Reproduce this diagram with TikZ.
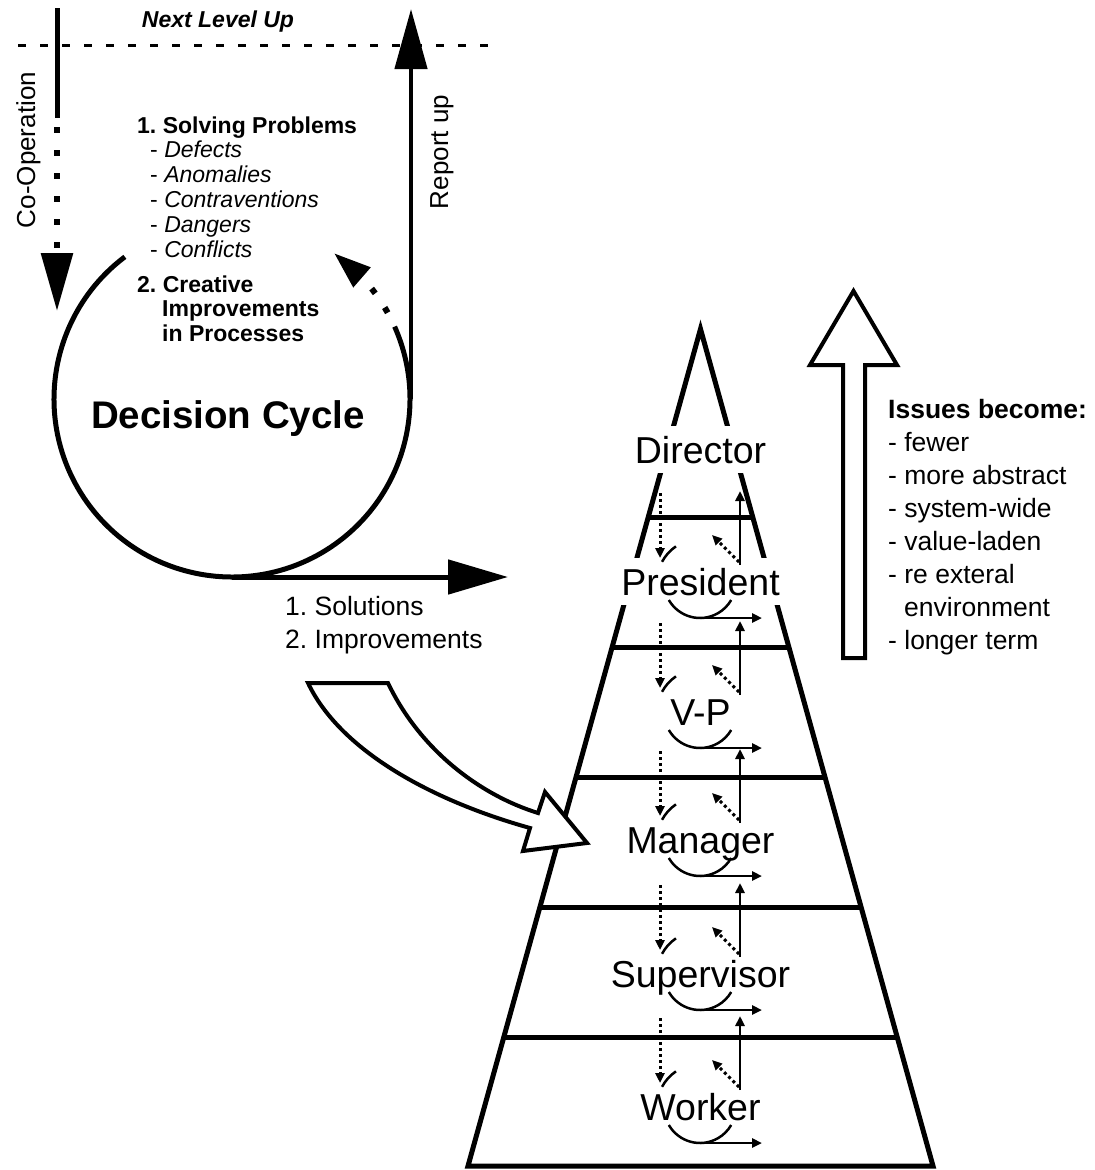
\documentclass[tikz,border=0pt]{standalone}
\usepackage{fontspec}
\setmainfont{Liberation Sans}
\usetikzlibrary{arrows.meta,bending}
\frenchspacing

\tikzset{
  heavy/.style={line width=5pt},
  thinline/.style={line width=2.5pt},
  bigdots/.style={line width=6pt, dash pattern=on 6pt off 17pt},
  smalldots/.style={line width=3pt, dash pattern=on 3pt off 3pt},
  smallhead/.style={-{Triangle[length=10pt,width=9pt]}},
  level/.style={fill=white, inner xsep=2pt, inner ysep=10pt, text height=27pt,
    text depth=0pt, anchor=base, font=\fontsize{37.5}{40}\selectfont},
  listtext/.style={anchor=base west, inner sep=0pt, font=\fontsize{23}{25}\selectfont},
  sidetext/.style={anchor=base west, inner sep=0pt, font=\fontsize{26.5}{33}\selectfont},
  hollow/.style={line width=4pt, fill=white, line join=miter},
}

\begin{document}
\begin{tikzpicture}[x=1pt,y=-1pt]

\useasboundingbox (0,0) rectangle (1095,1170);

% next level up
\coordinate (lvlL) at (18,45);
\coordinate (lvlR) at (497,45);
\draw[line width=3pt, dash pattern=on 8pt off 14pt] (lvlL) -- (lvlR);
\node[inner sep=0pt, font=\bfseries\itshape\fontsize{23}{25}\selectfont] (nextup) at (218,22) {Next Level Up};

% co-operation
\coordinate (coopTop) at (57,8);
\coordinate (coopMid) at (57,118);
\coordinate (coopDots) at (57,127);
\coordinate (coopTip) at (57,311);
\draw[heavy] (coopTop) -- (coopMid);
\draw[bigdots, -{Triangle[length=58pt,width=31pt]}] (coopDots) -- (coopTip);
\node[rotate=90, anchor=base, inner sep=0pt, font=\fontsize{26}{30}\selectfont] (coop) at (35,150) {Co-Operation};

% decision cycle
\coordinate (cyc) at (232,399);
\draw[heavy] (cyc) ++(233:178) arc[start angle=233, end angle=-24, radius=178];
\draw[bigdots, -{Triangle[length=37pt,width=25pt]}] (cyc) ++(-29:178) arc[start angle=-29, end angle=-55, radius=178];
\node[anchor=base, inner sep=0pt, font=\bfseries\fontsize{38.5}{42}\selectfont] (dc) at (228,428) {Decision Cycle};

% report up
\coordinate (repBot) at (411,399);
\coordinate (repTop) at (411,9);
\draw[line width=4.5pt, -{Triangle[length=60pt,width=32pt]}] (repBot) -- (repTop);
\node[rotate=90, anchor=base, inner sep=0pt, font=\fontsize{26}{30}\selectfont] (report) at (448,152) {Report up};

% solutions
\coordinate (solStart) at (232,577);
\coordinate (solEnd) at (508,577);
\draw[heavy, -{Triangle[length=60pt,width=34pt]}] (solStart) -- (solEnd);
\node[sidetext] (sol1) at (285,615) {1. Solutions};
\node[sidetext] (sol2) at (285,648) {2. Improvements};

% problems list
\node[listtext, font=\bfseries\fontsize{23}{25}\selectfont] (prob) at (137,133) {1. Solving Problems};
\foreach \w [count=\i] in {Defects,Anomalies,Contraventions,Dangers,Conflicts}
  \node[listtext] (item\i) at (150,132+25*\i) {- \textit{\w}};
\node[listtext, font=\bfseries\fontsize{23}{25}\selectfont] (creat) at (137,292) {2. Creative};
\node[listtext, font=\bfseries\fontsize{23}{25}\selectfont] (creat2) at (162,316) {Improvements};
\node[listtext, font=\bfseries\fontsize{23}{25}\selectfont] (creat3) at (162,341) {in Processes};

% pyramid
\coordinate (apex) at (700.5,329);
\coordinate (pbl) at (468,1166);
\coordinate (pbr) at (933,1166);
\draw[heavy, line join=miter] (pbl) -- (apex) -- (pbr) -- cycle;
\foreach \y in {517,647,777,907,1037}{
  \pgfmathsetmacro\hw{0.2778*(\y-329)}
  \draw[heavy] (700.5-\hw,\y) -- (700.5+\hw,\y);
}

\foreach \key/\txt/\b in {dir/Director/463, pres/President/595, vp/V-P/725,
    man/Manager/853, sup/Supervisor/987, wrk/Worker/1120}
  \node[level] (\key) at (700.5,\b) {\txt};

% little cycles
\foreach \b in {595,725,853,987,1120}{
  \draw[smalldots, smallhead] (660,\b-102) -- (660,\b-37);
  \draw[thinline] (700,\b-13) ++(208:43) arc[start angle=208, end angle=236, radius=43];
  \draw[thinline] (700,\b-13) ++(150:36) arc[start angle=150, end angle=30, radius=36];
  \draw[thinline, smallhead] (700,\b+23) -- (762,\b+23);
  \draw[thinline, smallhead] (740,\b-30) -- (740,\b-104);
  \draw[smalldots, smallhead] (739,\b-33) -- (712,\b-60);
}

% big arrows
\draw[hollow] (843,658) -- (843,365) -- (810,365) -- (853.5,291) -- (897,365)
  -- (865,365) -- (865,658) -- cycle;
\draw[hollow] (308,683) -- (388,683) .. controls (420,750) and (480,795) .. (538,813)
  -- (545,792) -- (587,843) -- (523,851) -- (530,828)
  .. controls (430,800) and (340,750) .. (308,683) -- cycle;

% issues
\node[sidetext, font=\bfseries\fontsize{26.5}{33}\selectfont] (issues) at (888,418) {Issues become:};
\node[sidetext] (iss1) at (888,451) {- fewer};
\node[sidetext] (iss2) at (888,484) {- more abstract};
\node[sidetext] (iss3) at (888,517) {- system-wide};
\node[sidetext] (iss4) at (888,550) {- value-laden};
\node[sidetext] (iss5) at (888,583) {- re exteral};
\node[sidetext] (iss6) at (904,616) {environment};
\node[sidetext] (iss7) at (888,649) {- longer term};

\end{tikzpicture}
\end{document}
